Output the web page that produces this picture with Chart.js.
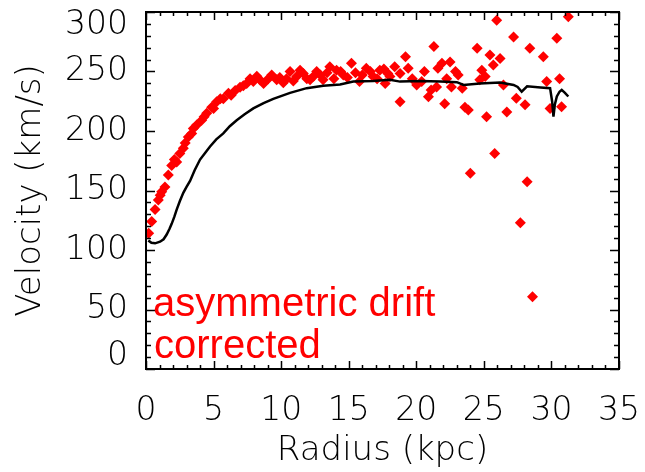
<!DOCTYPE html>
<html>
<head>
<meta charset="utf-8">
<script src="https://cdn.jsdelivr.net/npm/chart.js@4"></script>
<style>
  html, body { margin: 0; padding: 0; background: #fff; }
  #wrap { width: 645px; height: 472px; }
</style>
</head>
<body>
<div id="wrap"><canvas id="myChart" width="645" height="472"></canvas></div>
<script>
// rotation curve (black line)
const curveRadius = [0.17, 0.4, 0.67, 1.04, 1.3, 1.53, 1.75, 1.9, 2.1, 2.27, 2.5, 2.76, 3.0, 3.26, 3.6,
    4.0, 4.4, 4.74, 5.2, 5.72, 6.2, 6.71, 7.3, 7.94, 8.7, 9.42, 10.66, 11.89, 13.12, 14.36, 15.34,
    16.8, 18.05, 18.8, 20.3, 21.8, 23.0, 23.5, 24.7, 26.2, 27.2, 27.5, 27.8, 28.2, 29.2, 29.9,
    30.05, 30.15, 30.25, 30.4, 30.6, 30.76, 31.0, 31.25];
const curveVelocity = [108, 106, 105.6, 107, 109, 113, 118, 122, 128, 134, 141, 148, 153, 158, 167,
    176, 182, 187, 193, 198, 204, 209, 214, 219, 223.5, 227, 232, 236, 238, 239, 241.5,
    242, 243, 241.5, 242, 241.5, 241, 238.7, 240, 240.8, 238.7, 237, 233, 237.5, 236.6, 236,
    225, 212, 222, 229, 233, 234.5, 232, 229];

// asymmetric drift corrected points (red diamonds)
const pointRadius = [0.2, 0.42, 0.67, 0.91, 1.05, 1.16, 1.4, 1.65, 1.9, 2.1, 2.27, 2.5, 2.76, 2.9, 3.13,
    3.38, 3.5, 3.75, 4.12, 4.3, 4.49, 4.86, 5.0, 5.23, 5.5, 5.72, 6.1, 6.3, 6.6, 6.96, 7.2, 7.45, 7.7,
    7.94, 8.2, 8.44, 8.7, 9.05, 9.3, 9.67, 9.9, 10.16, 10.4, 10.66, 10.9, 11.15, 11.4, 11.64, 11.9,
    12.14, 12.4, 12.63, 12.9, 13.1, 13.4, 13.6, 13.9, 14.1, 14.4, 14.6, 14.9, 15.2, 15.5, 15.8, 16.0,
    16.3, 16.6, 16.8, 17.1, 17.3, 17.6, 17.7, 17.9, 18.05, 18.4, 18.8, 18.8, 19.2, 19.4, 19.7, 20.03,
    20.4, 20.6, 20.9, 21.1, 21.3, 21.5, 21.6, 21.9, 22.1, 22.25, 22.5, 22.6, 22.9, 23.1, 23.4, 23.6,
    23.85, 24.0, 24.5, 24.7, 24.85, 25.1, 25.2, 25.45, 25.7, 25.8, 25.95, 26.2, 26.45, 26.7, 27.2,
    27.4, 27.7, 28.05, 28.2, 28.4, 28.6, 29.4, 29.65, 29.9, 30.4, 30.6, 30.75, 31.25];
const pointVelocity = [114, 124, 134, 142, 146, 149, 153, 163, 171, 176, 174, 181, 185.5, 190, 195,
    198, 202, 205, 209, 212, 215, 220, 219, 224.6, 227, 227, 231.7, 230, 234, 236.7, 238, 240, 244,
    241.5, 246, 242.9, 240, 244, 247, 243, 245, 240.6, 244, 250, 242, 245.7, 251, 248.4, 244,
    243, 246, 250, 247, 243, 249, 254, 244, 251, 250, 247, 245, 257, 249, 241.5, 247,
    252.7, 250, 245.7, 244, 251, 252, 240, 248.4, 245.7, 254, 248.4, 224.6, 262.5, 252.7, 244, 238.7,
    241.5, 250, 228.8, 234.5, 271, 237, 252.7, 257, 223, 244, 258, 237, 250, 247, 236, 220,
    217.6, 164.4, 269.5, 243, 251, 245.7, 212, 263.9, 255.5, 181, 293, 261, 238.7, 216, 279,
    227.5, 123, 222, 157.4, 269.5, 60.8, 262.5, 241.5, 219, 277.9, 244, 220.4, 296];

const xTicks = [0, 5, 10, 15, 20, 25, 30, 35];
const yTicks = [0, 50, 100, 150, 200, 250, 300];

const noteLines = ["asymmetric drift", "corrected"];

const tickFont = { family: "DejaVu Sans", size: 33, weight: 200, lineHeight: 0.79 };
const titleFont = { family: "DejaVu Sans", size: 34, weight: 200 };

// IDL-style box with inward ticks on all four sides
const boxPlugin = {
    id: "boxTicks",
    afterDatasetsDraw(chart) {
        const ctx = chart.ctx;
        const a = chart.chartArea;
        const xs = chart.scales.x;
        const ys = chart.scales.y;
        ctx.save();
        ctx.strokeStyle = "#000";
        ctx.lineWidth = 1.5;
        ctx.beginPath();
        for (let v = 0; v <= 35; v++) {
            const px = Math.round(xs.getPixelForValue(v)) + 0.5;
            const len = v % 5 === 0 ? 8 : 4;
            ctx.moveTo(px, a.bottom); ctx.lineTo(px, a.bottom - len);
            ctx.moveTo(px, a.top); ctx.lineTo(px, a.top + len);
        }
        for (let v = 0; v <= 300; v += 10) {
            const py = Math.round(ys.getPixelForValue(v)) + 0.5;
            const len = v % 50 === 0 ? 9 : 5;
            ctx.moveTo(a.left, py); ctx.lineTo(a.left + len, py);
            ctx.moveTo(a.right, py); ctx.lineTo(a.right - len, py);
        }
        ctx.stroke();
        ctx.lineWidth = 2;
        ctx.strokeRect(a.left, a.top, a.right - a.left, a.bottom - a.top);

        // red note
        ctx.fillStyle = "#ff0000";
        ctx.font = "40px 'Liberation Sans', Arial, sans-serif";
        ctx.textBaseline = "alphabetic";
        ctx.fillText(noteLines[0], a.left + 7, 316);
        ctx.fillText(noteLines[1], a.left + 8, 358);
        ctx.restore();
    }
};

const canvas = document.getElementById("myChart");
const context = canvas.getContext("2d");

new Chart(context, {
    type: "scatter",
    data: {
        datasets: [
            {
                type: "line",
                label: "rotation curve",
                data: curveRadius.map((r, i) => ({ x: r, y: curveVelocity[i] })),
                borderColor: "#000",
                borderWidth: 2.5,
                pointRadius: 0,
                fill: false,
                tension: 0,
            },
            {
                label: "asymmetric drift corrected",
                data: pointRadius.map((r, i) => ({ x: r, y: pointVelocity[i] })),
                pointStyle: "rectRot",
                pointRadius: 5.5,
                backgroundColor: "#ff0000",
                borderColor: "#ff0000",
                borderWidth: 0,
            },
        ],
    },
    plugins: [boxPlugin],
    options: {
        responsive: false,
        animation: false,
        layout: { padding: { left: 0, top: 12, right: 26, bottom: 0 } },
        plugins: {
            legend: { display: false },
            tooltip: { enabled: false },
        },
        scales: {
            x: {
                type: "linear",
                min: 0,
                max: 35,
                afterBuildTicks: (s) => { s.ticks = xTicks.map(v => ({ value: v })); },
                afterFit: (s) => { s.height = 103; s.paddingLeft = 0; s.paddingRight = 0; },
                grid: { display: false, drawTicks: false },
                border: { display: false },
                ticks: { color: "#000", font: { family: "DejaVu Sans", size: 33, weight: 200 }, padding: 23, maxRotation: 0 },
                title: { display: true, text: "Radius (kpc)", color: "#000", font: titleFont, padding: { top: 0, bottom: 0 } },
            },
            y: {
                type: "linear",
                min: 0,
                max: 300,
                afterBuildTicks: (s) => { s.ticks = yTicks.map(v => ({ value: v })); },
                afterFit: (s) => { s.width = 146; s.paddingTop = 0; s.paddingBottom = 0; },
                grid: { display: false, drawTicks: false },
                border: { display: false },
                ticks: {
                    color: "#000",
                    font: tickFont,
                    padding: 18,
                    callback: (v) => v === 300 ? ["", "300"] : v === 0 ? ["0", ""] : String(v),
                },
                title: { display: true, text: "Velocity (km/s)", color: "#000", font: titleFont, padding: { top: 11, bottom: 0 } },
            },
        },
    },
});
</script>
</body>
</html>
